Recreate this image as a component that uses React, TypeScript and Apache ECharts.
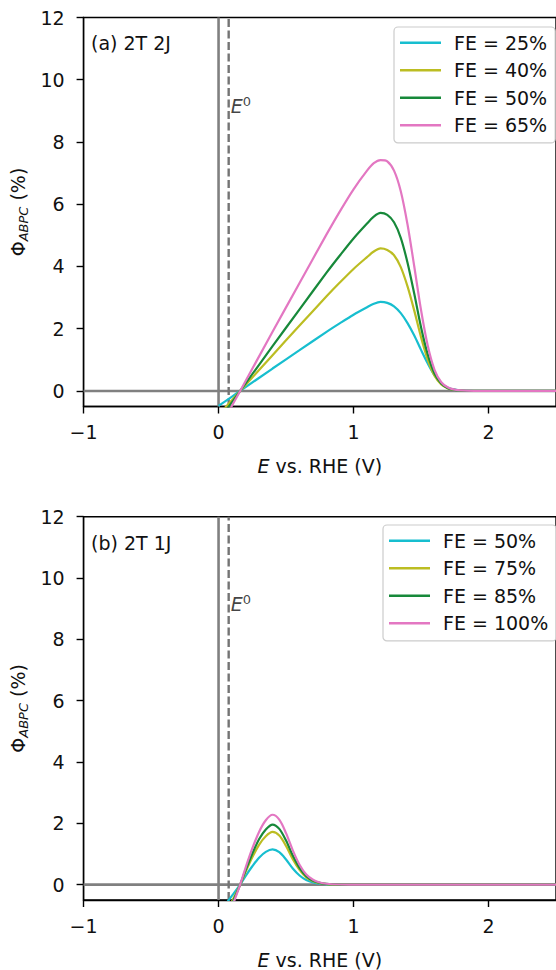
import React, { useEffect, useRef } from "react";
import * as echarts from "echarts";

// ---------- data ----------
const E0 = 0.075;
const xTicks = [-1, 0, 1, 2];
const yTicks = [0, 2, 4, 6, 8, 10, 12];

// panel (a) 2T 2J
const eTop = [0, 0.1, 0.16, 0.4, 0.6, 0.8, 0.9, 1.0, 1.1, 1.15, 1.2, 1.25, 1.3, 1.35, 1.4, 1.45, 1.5, 1.55, 1.6, 1.65, 1.7, 1.75, 1.8, 1.9, 2.0, 2.5];
const topNames = ["FE = 25%", "FE = 40%", "FE = 50%", "FE = 65%"];
const topFE25 = [-0.48, -0.18, 0, 0.72, 1.31, 1.9, 2.18, 2.45, 2.69, 2.8, 2.86, 2.83, 2.72, 2.5, 2.18, 1.78, 1.32, 0.88, 0.5, 0.24, 0.1, 0.04, 0.015, 0.003, 0, 0];
const topFE40 = [-0.77, -0.29, 0, 1.15, 2.1, 3.04, 3.49, 3.92, 4.3, 4.48, 4.58, 4.53, 4.36, 3.98, 3.36, 2.58, 1.73, 1.0, 0.49, 0.21, 0.08, 0.03, 0.012, 0.003, 0, 0];
const topFE50 = [-0.96, -0.36, 0, 1.44, 2.62, 3.8, 4.36, 4.9, 5.38, 5.6, 5.72, 5.66, 5.42, 4.92, 4.12, 3.12, 2.05, 1.17, 0.56, 0.24, 0.09, 0.035, 0.013, 0.003, 0, 0];
const topFE65 = [-1.25, -0.47, 0, 1.9, 3.47, 5.03, 5.78, 6.48, 7.08, 7.32, 7.42, 7.38, 7.08, 6.42, 5.35, 4.0, 2.6, 1.45, 0.68, 0.28, 0.11, 0.04, 0.015, 0.003, 0, 0];

// panel (b) 2T 1J
const eBot = [0.05, 0.1, 0.16, 0.2, 0.25, 0.3, 0.35, 0.4, 0.45, 0.5, 0.55, 0.6, 0.65, 0.7, 0.75, 0.8, 0.9, 1.0, 1.5, 2.0, 2.5];
const botNames = ["FE = 50%", "FE = 75%", "FE = 85%", "FE = 100%"];
const botFE50 = [-0.65, -0.36, 0, 0.28, 0.6, 0.88, 1.07, 1.15, 1.06, 0.82, 0.53, 0.3, 0.15, 0.07, 0.03, 0.012, 0.002, 0, 0, 0, 0];
const botFE75 = [-0.95, -0.54, 0, 0.41, 0.89, 1.3, 1.58, 1.72, 1.6, 1.26, 0.83, 0.48, 0.24, 0.11, 0.05, 0.02, 0.004, 0, 0, 0, 0];
const botFE85 = [-1.08, -0.62, 0, 0.47, 1.01, 1.48, 1.8, 1.96, 1.82, 1.44, 0.95, 0.55, 0.28, 0.13, 0.06, 0.025, 0.004, 0, 0, 0, 0];
const botFE100 = [-1.3, -0.72, 0, 0.55, 1.18, 1.72, 2.1, 2.28, 2.12, 1.68, 1.12, 0.65, 0.33, 0.16, 0.07, 0.03, 0.005, 0, 0, 0, 0];

const colors = ["#17becf", "#bcbd22", "#17893a", "#e377c2"];

const FONT = "DejaVu Sans";
const TXT = "#111111";
const GRAY = "#808080";

const X_MIN = -1, X_MAX = 2.5, Y_MIN = -0.5, Y_MAX = 12;

function fmtTick(v: number) {
  return v < 0 ? "\u2212" + Math.abs(v) : String(v);
}

function zip(xs: number[], ys: number[]) {
  return xs.map((x, i) => [x, ys[i]]);
}

export default function App() {
  const ref = useRef<HTMLDivElement>(null);
  useEffect(() => {
    if (!ref.current) return;
    const chart = echarts.init(ref.current, undefined, { renderer: "svg" });

    const grids = [
      { left: 83, top: 17.5, width: 479, height: 389 },
      { left: 83, top: 516.7, width: 479, height: 387.3 },
    ];

    const xAxes = grids.map((_, i) => ({
      type: "value",
      gridIndex: i,
      min: X_MIN,
      max: X_MAX,
      axisLine: { show: true, onZero: false, lineStyle: { color: "#000", width: 1.4 } },
      axisTick: { show: true, length: 7, lineStyle: { color: "#000", width: 1.4 }, customValues: xTicks },
      axisLabel: { customValues: xTicks, formatter: (v: number) => fmtTick(v), fontSize: 19, fontFamily: FONT, color: TXT, margin: 16 },
      splitLine: { show: false },
      name: "{i|E} vs. RHE (V)",
      nameLocation: "middle",
      nameGap: 50,
      nameTextStyle: {
        fontSize: 19, fontFamily: FONT, color: TXT,
        rich: { i: { fontSize: 19, fontFamily: FONT, fontStyle: "italic", color: TXT } },
      },
    }));

    const yAxes = grids.map((_, i) => ({
      type: "value",
      gridIndex: i,
      min: Y_MIN,
      max: Y_MAX,
      axisLine: { show: true, onZero: false, lineStyle: { color: "#000", width: 1.4 } },
      axisTick: { show: true, length: 7, lineStyle: { color: "#000", width: 1.4 }, customValues: yTicks },
      axisLabel: { customValues: yTicks, formatter: (v: number) => fmtTick(v), fontSize: 19, fontFamily: FONT, color: TXT, margin: 19 },
      splitLine: { show: false },
      name: "{a|\u03A6}{b|ABPC}{a| (%)}",
      nameLocation: "middle",
      nameRotate: 90,
      nameGap: 46,
      nameTextStyle: {
        fontSize: 19, fontFamily: FONT, color: TXT,
        rich: {
          a: { fontSize: 19, fontFamily: FONT, color: TXT, lineHeight: 24 },
          b: { fontSize: 13, fontFamily: FONT, fontStyle: "italic", color: TXT, lineHeight: 13, verticalAlign: "bottom" },
        },
      },
    }));

    const refLines = (i: number) => [
      {
        type: "line", xAxisIndex: i, yAxisIndex: i, silent: true, showSymbol: false, z: 1,
        data: [[0, Y_MIN], [0, Y_MAX]],
        lineStyle: { color: GRAY, width: 2.6 },
      },
      {
        type: "line", xAxisIndex: i, yAxisIndex: i, silent: true, showSymbol: false, z: 1,
        data: [[X_MIN, 0], [X_MAX, 0]],
        lineStyle: { color: GRAY, width: 2.6 },
      },
      {
        type: "line", xAxisIndex: i, yAxisIndex: i, silent: true, showSymbol: false, z: 1,
        data: [[E0, Y_MIN], [E0, Y_MAX]],
        lineStyle: { color: "#747474", width: 2.4, type: [8, 3.5] },
      },
      {
        type: "scatter", xAxisIndex: i, yAxisIndex: i, silent: true, symbolSize: 0, z: 3,
        data: [[E0, 9.15]],
        label: {
          show: true, position: "right", distance: 2,
          formatter: "{e|E}{s|0}",
          rich: {
            e: { fontSize: 19, fontFamily: FONT, fontStyle: "italic", color: TXT, lineHeight: 22 },
            s: { fontSize: 13, fontFamily: FONT, color: TXT, lineHeight: 13, verticalAlign: "top" },
          },
        },
      },
    ];

    const curve = (i: number, prefix: string, name: string, xs: number[], ys: number[], c: string) => ({
      type: "line",
      name: prefix + name,
      xAxisIndex: i,
      yAxisIndex: i,
      data: zip(xs, ys),
      showSymbol: false,
      smooth: 0.3,
      clip: true,
      z: 2,
      color: c,
      lineStyle: { color: c, width: 2.2 },
    });

    const topData = [topFE25, topFE40, topFE50, topFE65];
    const botData = [botFE50, botFE75, botFE85, botFE100];

    const series: any[] = [
      ...refLines(0),
      ...refLines(1),
      ...topNames.map((n, k) => curve(0, "a:", n, eTop, topData[k], colors[k])),
      ...botNames.map((n, k) => curve(1, "b:", n, eBot, botData[k], colors[k])),
    ];

    const legendCommon = {
      orient: "vertical",
      icon: "rect",
      itemWidth: 41,
      itemHeight: 2.6,
      itemGap: 5.5,
      padding: [4.7, 8, 6.7, 6],
      borderColor: "#cccccc",
      borderWidth: 1.2,
      borderRadius: 4,
      backgroundColor: "rgba(255,255,255,0.8)",
      formatter: (name: string) => name.slice(2),
      textStyle: { fontSize: 19, fontFamily: FONT, color: TXT, lineHeight: 22, padding: [0, 0, 0, 8] },
    };

    chart.setOption({
      animation: false,
      backgroundColor: "#ffffff",
      grid: grids.map((g) => ({ ...g, show: true, borderColor: "#000", borderWidth: 1.4, backgroundColor: "transparent" })),
      xAxis: xAxes,
      yAxis: yAxes,
      legend: [
        { ...legendCommon, left: 394, top: 27, data: topNames.map((n) => "a:" + n) },
        { ...legendCommon, left: 383, top: 525, data: botNames.map((n) => "b:" + n) },
      ],
      graphic: [
        { type: "text", x: 91, y: 43, style: { text: "(a) 2T 2J", fontSize: 19, fontFamily: FONT, fill: TXT, verticalAlign: "middle" } },
        { type: "text", x: 91, y: 543, style: { text: "(b) 2T 1J", fontSize: 19, fontFamily: FONT, fill: TXT, verticalAlign: "middle" } },
      ],
      series,
    });

    return () => chart.dispose();
  }, []);

  return <div ref={ref} style={{ position: "absolute", left: 0, top: 0, width: 556, height: 970, background: "#fff" }} />;
}
